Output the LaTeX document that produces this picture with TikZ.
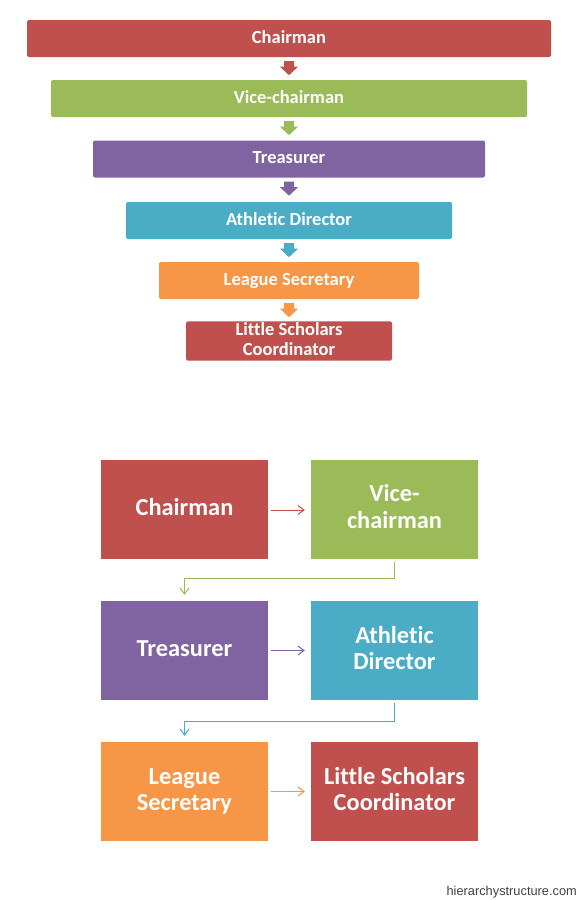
\documentclass[tikz,border=0pt]{standalone}
\usepackage{fontspec}
\setmainfont{Carlito}[Ligatures=NoCommon]
\newfontfamily\wmfont{Liberation Sans}
\usetikzlibrary{arrows.meta,calc}
\definecolor{cred}{HTML}{C0504D}
\definecolor{cgreen}{HTML}{9BBB59}
\definecolor{cpurple}{HTML}{8064A2}
\definecolor{caqua}{HTML}{4BACC6}
\definecolor{corange}{HTML}{F79646}
\definecolor{cwm}{HTML}{404040}
\newcommand\mystrut{\rule[-0.25em]{0pt}{1em}}
\newcommand\blockarrow[2]{\fill[#2] ($(#1.south)+(-5,4)$) -- ++(10,0) -- ++(0,5.5) -- ++(4,0) -- ++(-9,8.5) -- ++(-9,-8.5) -- ++(4,0) -- cycle;}
\tikzset{
  topbar/.style={rounded corners=2pt, minimum height=37pt, inner sep=0pt, text=white,
    font=\bfseries\fontsize{18.5}{20.7}\selectfont, align=center},
  boxb/.style={minimum width=167pt, minimum height=99pt, inner sep=0pt, text=white,
    font=\bfseries\fontsize{24.4}{26.7}\selectfont, align=center},
  conn/.style={draw=#1, line width=1pt, -{Straight Barb[length=6pt,width=9pt]}},
}
\begin{document}
\begin{tikzpicture}[x=1pt,y=-1pt]
\useasboundingbox (0,0) rectangle (580,900);
\fill[white] (0,0) rectangle (580,900);
% top list
\node[topbar, fill=cred,    minimum width=524pt] (t1) at (289,38.5) {\mystrut Chairman};
\node[topbar, fill=cgreen,  minimum width=476pt] (t2) at (289,98.5) {\mystrut Vice-chairman};
\node[topbar, fill=cpurple, minimum width=392pt] (t3) at (289,159) {\mystrut Treasurer};
\node[topbar, fill=caqua,   minimum width=326pt] (t4) at (289,220.5) {\mystrut Athletic Director};
\node[topbar, fill=corange, minimum width=260pt] (t5) at (289,280.5) {\mystrut League Secretary};
\node[topbar, fill=cred,    minimum width=206pt, minimum height=38pt] (t6) at (289,341) {\mystrut Little Scholars\\\mystrut Coordinator};
\blockarrow{t1}{cred}
\blockarrow{t2}{cgreen}
\blockarrow{t3}{cpurple}
\blockarrow{t4}{caqua}
\blockarrow{t5}{corange}
% bottom grid
\node[boxb, fill=cred]    (b1) at (184.5,509) {\mystrut Chairman};
\node[boxb, fill=cgreen]  (b2) at (394.5,509) {\mystrut Vice-\\\mystrut chairman};
\node[boxb, fill=cpurple] (b3) at (184.5,650.5) {\mystrut Treasurer};
\node[boxb, fill=caqua]   (b4) at (394.5,650.5) {\mystrut Athletic\\\mystrut Director};
\node[boxb, fill=corange] (b5) at (184.5,791.5) {\mystrut League\\\mystrut Secretary};
\node[boxb, fill=cred]    (b6) at (394.5,791.5) {\mystrut Little Scholars\\\mystrut Coordinator};
\draw[conn=cred]    ($(b1.east)+(3,1)$) -- ($(b2.west)+(-6,1)$);
\draw[conn=cpurple] ($(b3.east)+(3,0)$) -- ($(b4.west)+(-6,0)$);
\draw[conn=corange] ($(b5.east)+(3,0)$) -- ($(b6.west)+(-6,0)$);
\draw[conn=cgreen] ($(b2.south)+(0,3)$) |- ($(b3.north)+(0,-22)$) -- ($(b3.north)+(0,-6)$);
\draw[conn=caqua]  ($(b4.south)+(0,3)$) |- ($(b5.north)+(0,-20)$) -- ($(b5.north)+(0,-6)$);
% watermark
\node[anchor=base east, inner sep=0pt, text=cwm, font=\wmfont\fontsize{12.8}{15}\selectfont] (wm) at (577,895) {hierarchystructure.com};
\end{tikzpicture}
\end{document}
